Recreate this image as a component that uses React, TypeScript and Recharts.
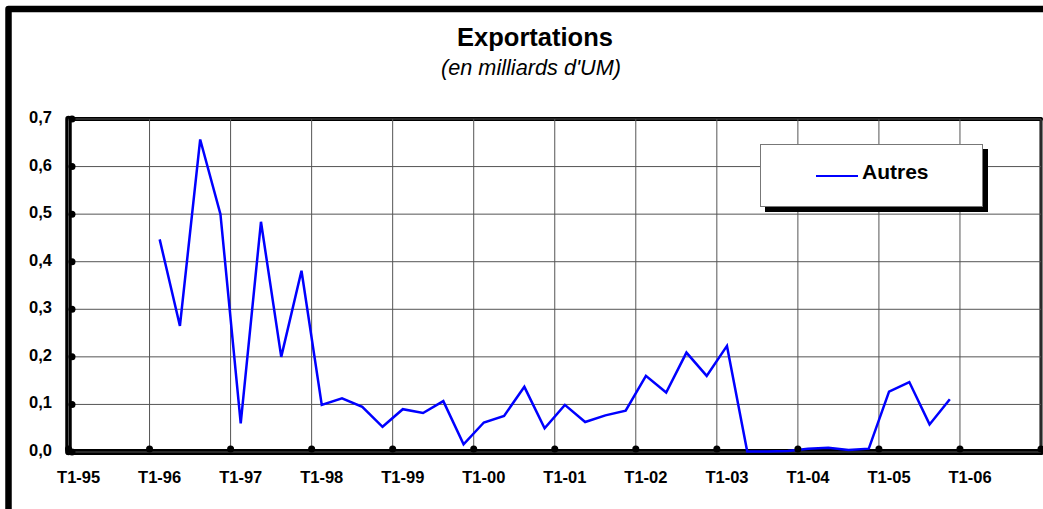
import React from "react";
import {
  LineChart,
  Line,
  XAxis,
  YAxis,
  CartesianGrid,
  Legend,
} from "recharts";

// year labels on the category axis (one per 4 quarters)
const yearLabels = [
  "T1-95", "T1-96", "T1-97", "T1-98", "T1-99", "T1-00",
  "T1-01", "T1-02", "T1-03", "T1-04", "T1-05", "T1-06",
];

// quarterly values, T1-95 .. T4-06 (billions UM)
const autres: (number | null)[] = [
  null, null, null, null,
  0.447, 0.265, 0.657, 0.5,
  0.06, 0.484, 0.2, 0.381,
  0.099, 0.113, 0.095, 0.053,
  0.09, 0.082, 0.107, 0.016,
  0.062, 0.076, 0.137, 0.05,
  0.099, 0.063, 0.077, 0.087,
  0.16, 0.125, 0.209, 0.16,
  0.223, 0.001, 0.001, 0.002,
  0.007, 0.009, 0.004, 0.007,
  0.127, 0.147, 0.058, 0.111,
  null, null, null, null,
];

const yTicks = [0, 0.1, 0.2, 0.3, 0.4, 0.5, 0.6, 0.7];

const W = 1043;
const H = 509;
const MARGIN = { top: 119, right: 2, bottom: 27, left: 8.5 };
const Y_WIDTH = 60;
const X_HEIGHT = 30;
const FONT = "'Liberation Sans', Arial, sans-serif";

// plot area bounds (same numbers the chart uses for its offsets)
const PL = MARGIN.left + Y_WIDTH;
const PR = W - MARGIN.right;
const PT = MARGIN.top;
const PB = H - MARGIN.bottom - X_HEIGHT;

const halfCat = (PR - PL) / autres.length / 2;

const data = autres.map((v, i) => ({ q: i + 0.5, autres: v }));
const xTicks = [...yearLabels.map((_, i) => i * 4), autres.length];

const fmt = (v: number) => v.toFixed(1).replace(".", ",");

const XTick = (props: any) => {
  const { x, y, payload } = props;
  const label = yearLabels[payload.value / 4];
  return (
    <g>
      <circle cx={x} cy={y - 3} r={3.5} fill="#000" />
      {label && (
        <text
          x={x + halfCat}
          y={y + 31}
          textAnchor="middle"
          fontFamily={FONT}
          fontWeight="bold"
          fontSize={16.5}
          fill="#000"
        >
          {label}
        </text>
      )}
    </g>
  );
};

const YTick = (props: any) => {
  const { x, y, payload } = props;
  return (
    <g>
      <circle cx={x + 3.5} cy={y} r={3.5} fill="#000" />
      <text
        x={x - 16.5}
        y={y + 4}
        textAnchor="end"
        fontFamily={FONT}
        fontWeight="bold"
        fontSize={16.5}
        fill="#000"
      >
        {fmt(payload.value)}
      </text>
    </g>
  );
};

const LegendBox = (props: any) => {
  const items = props.payload || [];
  return (
    <div
      style={{
        width: 223,
        height: 63,
        boxSizing: "border-box",
        border: "1px solid #777",
        background: "#fff",
        boxShadow: "5px 5px 0 #000",
        position: "relative",
      }}
    >
      {items.map((it: any) => (
        <div key={it.value}>
          <div
            style={{
              position: "absolute",
              left: 55,
              top: 29.5,
              width: 42,
              height: 2.5,
              background: it.color,
            }}
          />
          <div
            style={{
              position: "absolute",
              left: 101,
              top: 15,
              fontFamily: FONT,
              fontWeight: "bold",
              fontSize: 21,
              color: "#000",
            }}
          >
            {it.value}
          </div>
        </div>
      ))}
    </div>
  );
};

export default function App() {
  return (
    <div
      style={{
        position: "absolute",
        left: 0,
        top: 0,
        width: W,
        height: H,
        overflow: "hidden",
        background: "#fff",
      }}
    >
      {/* outer frame, plot border and titles (behind the chart layer) */}
      <svg width={W} height={H} style={{ position: "absolute", left: 0, top: 0 }}>
        <path
          d={`M 8.5 ${H + 20} L 8.5 9 L ${W + 20} 9`}
          fill="none"
          stroke="#000"
          strokeWidth={6.5}
          strokeLinejoin="round"
        />
        <g stroke="#000" strokeLinecap="round">
          <line x1={PL} y1={PT} x2={PR} y2={PT} strokeWidth={4} />
          <line x1={PR} y1={PT} x2={PR} y2={PB} strokeWidth={3} />
          <line x1={PL} y1={PT} x2={PL} y2={PB} strokeWidth={6.5} />
          <line x1={PL} y1={PB} x2={PR} y2={PB} strokeWidth={6} />
        </g>
        <text
          x={535}
          y={46}
          textAnchor="middle"
          fontFamily={FONT}
          fontWeight="bold"
          fontSize={25.5}
          fill="#000"
        >
          Exportations
        </text>
        <text
          x={531}
          y={75}
          textAnchor="middle"
          fontFamily={FONT}
          fontStyle="italic"
          fontSize={21.7}
          fill="#000"
        >
          (en milliards d'UM)
        </text>
      </svg>

      <div style={{ position: "absolute", left: 0, top: 0 }}>
        <LineChart width={W} height={H} data={data} margin={MARGIN}>
          <CartesianGrid stroke="#555" strokeWidth={1} />
          <XAxis
            dataKey="q"
            type="number"
            domain={[0, autres.length]}
            ticks={xTicks}
            interval={0}
            height={X_HEIGHT}
            tickSize={0}
            tickMargin={0}
            tickLine={false}
            axisLine={false}
            tick={XTick}
          />
          <YAxis
            type="number"
            domain={[0, 0.7]}
            ticks={yTicks}
            width={Y_WIDTH}
            tickSize={0}
            tickMargin={0}
            tickLine={false}
            axisLine={false}
            tick={YTick}
          />
          <Line
            type="linear"
            dataKey="autres"
            name="Autres"
            stroke="#0000ff"
            strokeWidth={2.5}
            dot={false}
            activeDot={false}
            isAnimationActive={false}
          />
          <Legend
            layout="horizontal"
            verticalAlign="middle"
            align="center"
            wrapperStyle={{ left: 760, top: 144, width: 223, height: 63 }}
            content={LegendBox}
          />
        </LineChart>
      </div>
    </div>
  );
}
